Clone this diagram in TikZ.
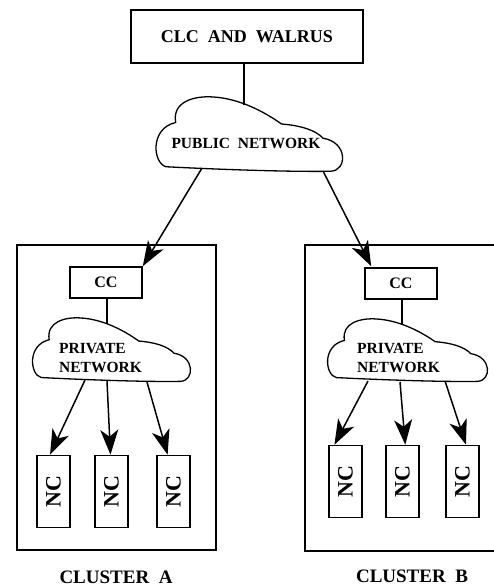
\documentclass[tikz,border=0pt]{standalone}
\usepackage{fontspec}
\setmainfont{Liberation Serif}
\usepackage{graphicx}
\usetikzlibrary{arrows.meta,calc}
\tikzset{
  boxnode/.style={draw, line width=1.6pt, inner sep=0pt, align=center},
  ncbox/.style={boxnode, minimum width=33pt, minimum height=72pt, font=\bfseries\fontsize{22}{24}\selectfont},
  ccbox/.style={boxnode, minimum width=72pt, minimum height=31pt, font=\bfseries\fontsize{16}{18}\selectfont},
  cloudline/.style={draw, line width=1.3pt, line join=round},
  conn/.style={line width=1.4pt},
  arr/.style={line width=1.5pt, -{Stealth[length=25pt,width=18pt,inset=7pt]}},
  clusterline/.style={line width=1.6pt},
  netlbl/.style={font=\bfseries\fontsize{15.5}{19}\selectfont, align=left, inner sep=0pt},
  clulbl/.style={font=\bfseries\fontsize{19}{20}\selectfont, inner sep=0pt},
  cloudpic/.pic={
    \draw[cloudline] (0.07,0.93) .. controls (0.0,0.89) and (-0.02,0.42) .. (0.12,0.34)
      .. controls (0.10,0.06) and (0.22,-0.02) .. (0.32,0.0)
      .. controls (0.45,0.02) and (0.58,0.18) .. (0.68,0.36)
      .. controls (0.78,0.38) and (0.86,0.44) .. (0.9,0.55)
      .. controls (1.03,0.6) and (1.03,0.98) .. (0.94,0.99)
      .. controls (0.7,1.0) and (0.3,0.96) .. (0.07,0.93) -- cycle;
  }
}
\begin{document}
\begin{tikzpicture}[x=1pt,y=-1pt]
\useasboundingbox (0,0) rectangle (494,587);

% top box
\node[boxnode, minimum width=232pt, minimum height=53pt, font=\bfseries\fontsize{18}{20}\selectfont] (clc) at (247,36.5) {CLC\ \ AND\ \ WALRUS};

% public cloud
\pic[xscale=189, yscale=75] at (153,97) {cloudpic};
\node[netlbl] (pubtxt) at (246,143.5) {PUBLIC\ \ NETWORK};
\coordinate (pubtop) at (244,105);
\coordinate (pubL) at (202,168);
\coordinate (pubR) at (323,171);
\draw[conn] (clc.south -| pubtop) -- (pubtop);

% cluster A
\node[draw, clusterline, minimum width=199pt, minimum height=305pt, inner sep=0pt] (cluA) at (116.5,397.5) {};
\node[ccbox] (ccA) at (106,282.5) {CC};
\pic[xscale=160, yscale=64] at (30,318) {cloudpic};
\node[netlbl, anchor=west] (privA) at (59,357.5) {PRIVATE\\NETWORK};
\coordinate (privAtop) at (107,324);
\draw[conn] (ccA.south -| privAtop) -- (privAtop);
\coordinate (pA1) at (85,380);
\coordinate (pA2) at (107,381);
\coordinate (pA3) at (147,382);
\node[ncbox] (ncA1) at (53.5,491.5) {\rotatebox{90}{NC}};
\node[ncbox] (ncA2) at (111.5,491.5) {\rotatebox{90}{NC}};
\node[ncbox] (ncA3) at (173.5,491.5) {\rotatebox{90}{NC}};
\draw[arr] (pA1) -- ($(ncA1.north west)!0.4!(ncA1.north east)$);
\draw[arr] (pA2) -- ($(ncA2.north west)!0.47!(ncA2.north east)$);
\draw[arr] (pA3) -- ($(ncA3.north west)!0.33!(ncA3.north east)$);
\node[clulbl] (labA) at (116,577) {CLUSTER\ \ A};

% cluster B
\coordinate (cluBtr) at (494,245);
\coordinate (cluBtl) at (305,245);
\coordinate (cluBbl) at (305,551);
\coordinate (cluBbr) at (494,551);
\draw[clusterline] (cluBtr) -- (cluBtl) -- (cluBbl) -- (cluBbr);
\node[ccbox] (ccB) at (401,283.5) {CC};
\pic[xscale=162, yscale=63] at (325,319) {cloudpic};
\node[netlbl, anchor=west] (privB) at (357,357.5) {PRIVATE\\NETWORK};
\coordinate (privBtop) at (402,325);
\draw[conn] (ccB.south -| privBtop) -- (privBtop);
\coordinate (pB1) at (368,381);
\coordinate (pB2) at (400,382);
\coordinate (pB3) at (445,381);
\node[ncbox] (ncB1) at (345.5,481.5) {\rotatebox{90}{NC}};
\node[ncbox] (ncB2) at (402.5,481.5) {\rotatebox{90}{NC}};
\node[ncbox] (ncB3) at (462.5,481.5) {\rotatebox{90}{NC}};
\draw[arr] (pB1) -- ($(ncB1.north west)!0.18!(ncB1.north east)$);
\draw[arr] (pB2) -- ($(ncB2.north west)!0.58!(ncB2.north east)$);
\draw[arr] (pB3) -- ($(ncB3.north west)!0.6!(ncB3.north east)$);
\node[clulbl] (labB) at (412,576.5) {CLUSTER\ \ B};

% top arrows
\draw[arr] (pubL) -- (ccA.north east);
\draw[arr] (pubR) -- ($(ccB.north west)+(7,-1)$);
\end{tikzpicture}
\end{document}
